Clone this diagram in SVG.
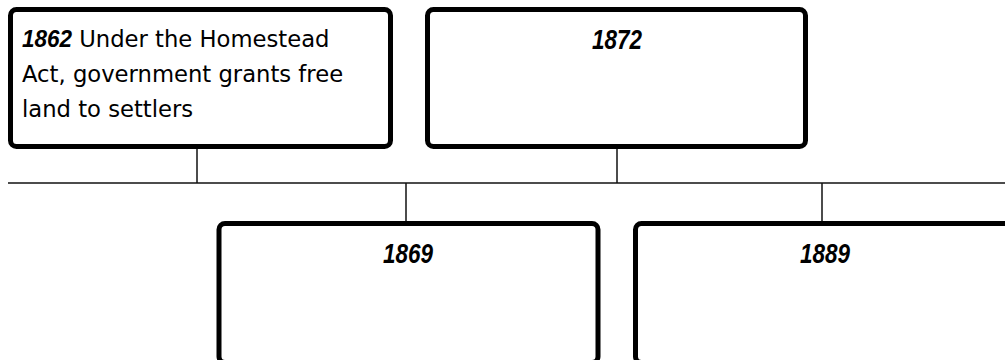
<svg xmlns="http://www.w3.org/2000/svg" width="1005" height="360" viewBox="0 0 1005 360">
<style>
.box{fill:#fff;stroke:#000;stroke-width:5}
.conn{stroke:#111;stroke-width:1.5;fill:none}
.yr{font-family:"Liberation Sans",Arial,sans-serif;font-weight:bold;font-style:italic;font-size:27px;fill:#000;text-anchor:middle}
.body{font-family:"DejaVu Sans",sans-serif;font-size:22.7px;fill:#000}
.b{font-family:"Liberation Sans",Arial,sans-serif;font-weight:bold;font-style:italic;font-size:24px}
</style>
<rect width="1005" height="360" fill="#fff"/>
<g id="connectors">
<line class="conn" x1="8" y1="183" x2="1005" y2="183"/>
<line class="conn" x1="197" y1="148" x2="197" y2="183"/>
<line class="conn" x1="617" y1="148" x2="617" y2="183"/>
<line class="conn" x1="406" y1="183" x2="406" y2="222"/>
<line class="conn" x1="822" y1="183" x2="822" y2="222"/>
</g>
<g id="node-1862">
<rect class="box" x="10.5" y="9.5" width="380" height="137" rx="6"/>
<text class="body" x="22" y="47"><tspan class="b" textLength="50" lengthAdjust="spacingAndGlyphs">1862</tspan> Under the Homestead</text>
<text class="body" x="22" y="82">Act, government grants free</text>
<text class="body" x="22" y="117">land to settlers</text>
</g>
<g id="node-1872">
<rect class="box" x="427.5" y="9.5" width="378" height="137" rx="6"/>
<text class="yr" x="617" y="49" textLength="50" lengthAdjust="spacingAndGlyphs">1872</text>
</g>
<g id="node-1869">
<rect class="box" x="219" y="223.5" width="379" height="139" rx="6"/>
<text class="yr" x="408" y="263" textLength="50" lengthAdjust="spacingAndGlyphs">1869</text>
</g>
<g id="node-1889">
<rect class="box" x="635.5" y="223.5" width="379" height="139" rx="6"/>
<text class="yr" x="825" y="263" textLength="50" lengthAdjust="spacingAndGlyphs">1889</text>
</g>
</svg>
